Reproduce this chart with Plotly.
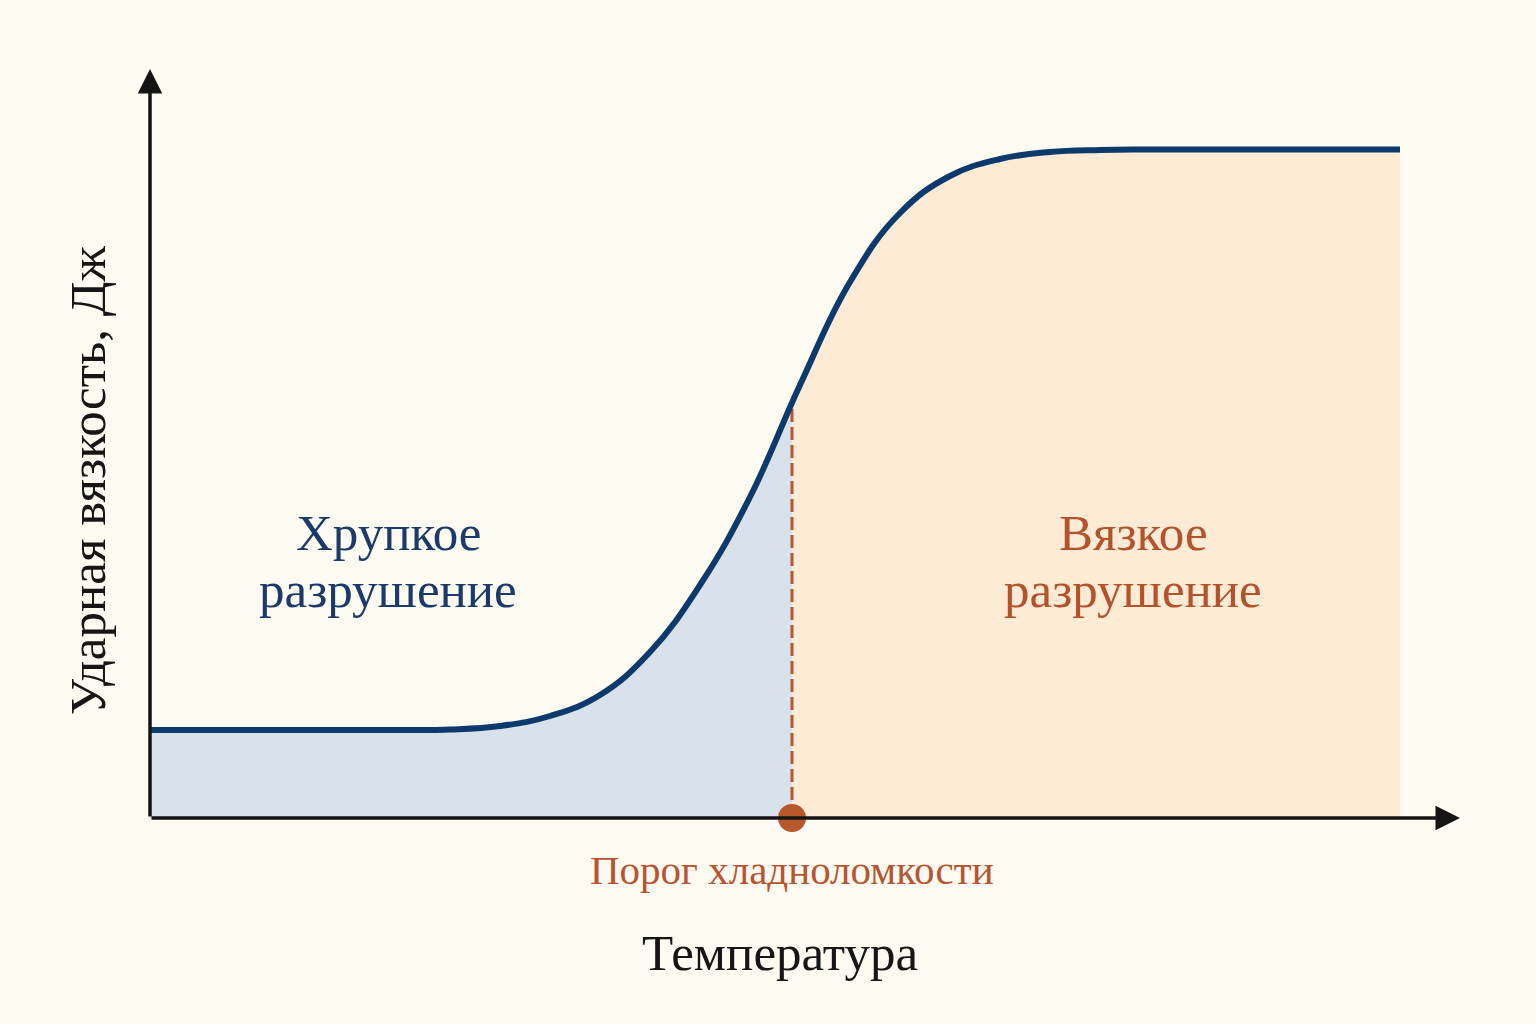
import plotly.graph_objects as go

# curve (arbitrary units: temperature / impact energy)
temp = [0, 5, 10, 15, 20, 25, 30, 35, 40, 45, 50, 55, 60, 65, 70, 75,
        80, 85, 90, 95, 100, 125]
energy = [8.8, 8.8, 8.8, 8.8, 8.8, 8.8, 8.85, 9.2, 10.2, 12.3, 16.6, 23.3,
          32.1, 43.3, 53.6, 60.5, 64.2, 65.9, 66.6, 66.8, 66.85, 66.85]

t_threshold = 64.2
e_threshold = 41.4

x_end = 131
y_end = 74.9

font_family = "Liberation Serif, Times New Roman, serif"
navy = "#0c3a6d"
rust = "#b9552c"
bg = "#fdfaf1"
smooth = 1.2

# split the curve at the threshold for the two fills
brittle_x = [t for t in temp if t < t_threshold] + [t_threshold]
brittle_y = [e for t, e in zip(temp, energy) if t < t_threshold] + [e_threshold]
ductile_x = [t_threshold] + [t for t in temp if t > t_threshold]
ductile_y = [e_threshold] + [e for t, e in zip(temp, energy) if t > t_threshold]

fig = go.Figure()

fig.add_trace(go.Scatter(
    x=brittle_x, y=brittle_y, mode='lines', fill='tozeroy',
    fillcolor='#d9e2ea', line=dict(width=0, shape='spline', smoothing=smooth),
    hoverinfo='skip'
))
fig.add_trace(go.Scatter(
    x=ductile_x, y=ductile_y, mode='lines', fill='tozeroy',
    fillcolor='#fdebd6', line=dict(width=0, shape='spline', smoothing=smooth),
    hoverinfo='skip'
))

# threshold dashed line
fig.add_trace(go.Scatter(
    x=[t_threshold, t_threshold], y=[0, e_threshold], mode='lines',
    line=dict(color=rust, width=3, dash='13px,5px'),
    hoverinfo='skip'
))

# main curve
fig.add_trace(go.Scatter(
    x=temp, y=energy, mode='lines',
    line=dict(color=navy, width=6, shape='spline', smoothing=smooth),
    hoverinfo='skip'
))

# axes with arrows
fig.add_annotation(x=x_end, y=0, ax=0, ay=0, xref='x', yref='y',
                   axref='x', ayref='y', showarrow=True, arrowhead=2,
                   arrowsize=1.4, arrowwidth=3.5, arrowcolor='#141414', text='')
fig.add_annotation(x=0, y=y_end, ax=0, ay=0, xref='x', yref='y',
                   axref='x', ayref='y', showarrow=True, arrowhead=2,
                   arrowsize=1.4, arrowwidth=3.5, arrowcolor='#141414', text='')

# threshold dot
fig.add_trace(go.Scatter(
    x=[t_threshold], y=[0], mode='markers',
    marker=dict(size=28, color='#b8582c', line=dict(width=0)),
    cliponaxis=False, hoverinfo='skip'
))

# region labels, one annotation per line to keep the tight spacing
label_font = 51
fig.add_annotation(x=23.8, y=28.5, text="Хрупкое", showarrow=False,
                   font=dict(family=font_family, size=label_font, color='#1b3a6b'))
fig.add_annotation(x=23.8, y=22.8, text="разрушение", showarrow=False,
                   font=dict(family=font_family, size=label_font, color='#1b3a6b'))
fig.add_annotation(x=98.3, y=28.5, text="Вязкое", showarrow=False,
                   font=dict(family=font_family, size=label_font, color='#b4532b'))
fig.add_annotation(x=98.3, y=22.8, text="разрушение", showarrow=False,
                   font=dict(family=font_family, size=label_font, color='#b4532b'))

# labels outside the plot area
fig.add_annotation(x=t_threshold, y=-0.0694, xref='x', yref='paper',
                   xanchor='center', yanchor='middle',
                   text="Порог хладноломкости", showarrow=False,
                   font=dict(family=font_family, size=41, color='#b85430'))
fig.add_annotation(x=63, y=-0.180, xref='x', yref='paper',
                   xanchor='center', yanchor='middle',
                   text="Температура", showarrow=False,
                   font=dict(family=font_family, size=51, color='#161616'))
fig.add_annotation(x=-0.0473, y=33.8, xref='paper', yref='y',
                   xanchor='center', yanchor='middle',
                   text="Ударная вязкость, Дж", showarrow=False,
                   textangle=-90,
                   font=dict(family=font_family, size=51, color='#161616'))

fig.update_layout(
    width=1536, height=1024,
    showlegend=False,
    paper_bgcolor=bg, plot_bgcolor=bg,
    margin=dict(l=150, r=76, t=69, b=206),
    xaxis=dict(range=[0, x_end], visible=False, fixedrange=True),
    yaxis=dict(range=[0, y_end], visible=False, fixedrange=True),
)

fig.write_html(
    "out.html",
    config={'displayModeBar': False},
    post_script="document.body.style.margin='0';document.body.style.background='%s';" % bg,
)
